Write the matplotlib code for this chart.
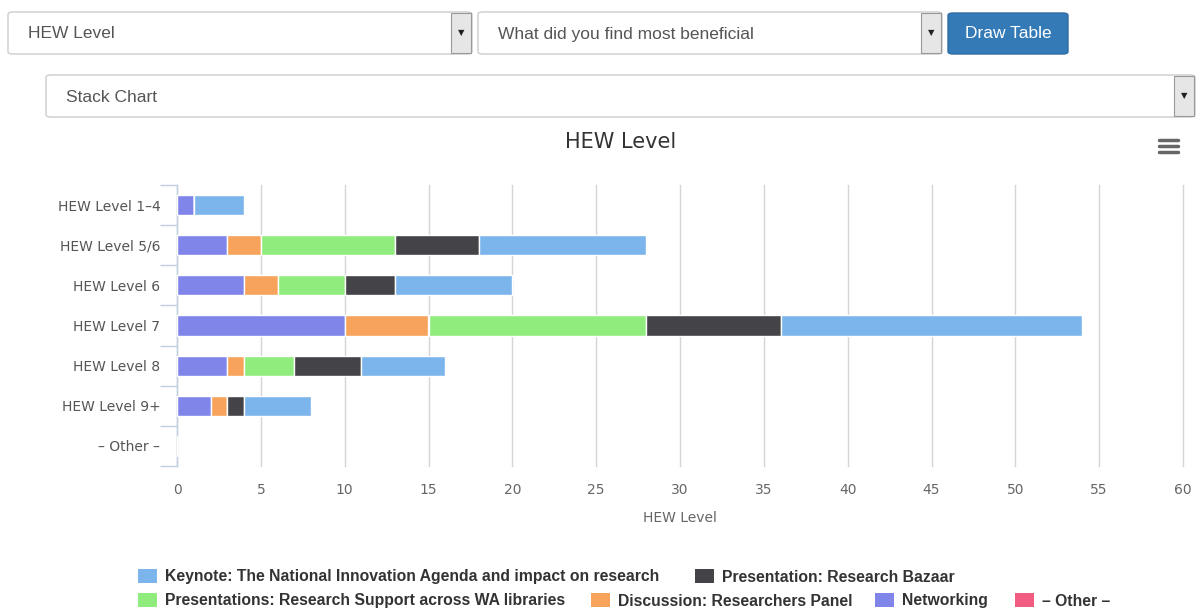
import matplotlib
matplotlib.use("Agg")
import matplotlib.pyplot as plt
from matplotlib.patches import FancyBboxPatch, Rectangle
import numpy as np

categories = ["HEW Level 1\u20134", "HEW Level 5/6", "HEW Level 6", "HEW Level 7",
              "HEW Level 8", "HEW Level 9+", "\u2013 Other \u2013"]
series_names = ["Keynote: The National Innovation Agenda and impact on research",
                "Presentation: Research Bazaar",
                "Presentations: Research Support across WA libraries",
                "Discussion: Researchers Panel",
                "Networking",
                "\u2013 Other \u2013"]
keynote = [3, 10, 7, 18, 5, 4, 0]
bazaar = [0, 5, 3, 8, 4, 1, 0]
pres_wa = [0, 8, 4, 13, 3, 0, 0]
discussion = [0, 2, 2, 5, 1, 1, 0]
networking = [1, 3, 4, 10, 3, 2, 0]
other = [0, 0, 0, 0, 0, 0, 0]
colors = ["#7cb5ec", "#434348", "#90ed7d", "#f7a35c", "#8085e9", "#f15c80"]
x_ticks = list(range(0, 61, 5))

W, H = 1198, 610
fig = plt.figure(figsize=(W / 100, H / 100), dpi=100)
fig.patch.set_facecolor("white")

def fx(x): return x / W
def fy(y): return 1 - y / H

# --- top UI controls ---
def select_box(x0, x1, y0, y1, label, arrow_w=20):
    box = FancyBboxPatch((fx(x0), fy(y1)), fx(x1 - x0), (y1 - y0) / H,
                         boxstyle="round,pad=0,rounding_size=0.004",
                         transform=fig.transFigure, facecolor="white",
                         edgecolor="#cccccc", lw=1)
    fig.add_artist(box)
    ab = Rectangle((fx(x1 - arrow_w - 1), fy(y1 - 1)), fx(arrow_w), (y1 - y0 - 2) / H,
                   transform=fig.transFigure, facecolor="#e6e6e6", edgecolor="#999999", lw=0.8)
    fig.add_artist(ab)
    fig.text(fx(x1 - 1 - arrow_w / 2), fy((y0 + y1) / 2), "\u25BC", fontsize=6,
             ha="center", va="center", color="#222222", family="DejaVu Sans")
    fig.text(fx(x0 + 20), fy((y0 + y1) / 2 + 1), label, fontsize=12.5, ha="left",
             va="center", color="#555555", family="Liberation Sans")

select_box(8, 472, 12, 54, "HEW Level")
select_box(478, 942, 12, 54, "What did you find most beneficial")
select_box(46, 1195, 75, 117, "Stack Chart")
btn = FancyBboxPatch((fx(948), fy(54)), fx(120), 41 / H,
                     boxstyle="round,pad=0,rounding_size=0.004",
                     transform=fig.transFigure, facecolor="#337ab7",
                     edgecolor="#2e6da4", lw=1)
fig.add_artist(btn)
fig.text(fx(1008), fy(34), "Draw Table", fontsize=12.5, ha="center", va="center",
         color="white", family="Liberation Sans")

# --- chart ---
ax = fig.add_axes([fx(177), fy(466), fx(1183 - 177), (466 - 185) / H])
y = np.arange(len(categories))
stack_order = [(other, 5), (networking, 4), (discussion, 3), (pres_wa, 2), (bazaar, 1), (keynote, 0)]
left = np.zeros(len(categories))
for vals, idx in stack_order:
    v = np.array(vals, dtype=float)
    ax.barh(y, v, left=left, height=0.5, color=colors[idx], edgecolor="white",
            linewidth=1, zorder=3)
    left += v

ax.set_xlim(0, 60)
ax.set_ylim(len(categories) - 0.5, -0.5)
ax.set_xticks(x_ticks)
ax.set_xticklabels([str(t) for t in x_ticks], fontsize=10, color="#666666",
                   family="DejaVu Sans")
ax.tick_params(axis="x", length=0, pad=12)
ax.grid(axis="x", color="#d5d5d5", lw=1, zorder=0)
for gl in ax.get_xgridlines():
    gl.set_clip_on(False)
ax.set_yticks(y)
ax.set_yticklabels(categories, fontsize=10, color="#555555", family="DejaVu Sans")
ax.set_yticks(np.arange(-0.5, len(categories)), minor=True)
ax.tick_params(axis="y", which="major", length=0, pad=12)
ax.tick_params(axis="y", which="minor", length=12, color="#C0D0E0", width=1)
for s in ["top", "right", "bottom"]:
    ax.spines[s].set_visible(False)
ax.spines["left"].set_color("#C0D0E0")
ax.spines["left"].set_linewidth(1)
ax.set_xlabel("HEW Level", fontsize=10, color="#666666", labelpad=10, family="DejaVu Sans")

fig.text(fx(621), fy(142), "HEW Level", fontsize=15, ha="center", va="center",
         color="#333333", family="DejaVu Sans")

# hamburger icon
for yy in [140, 146, 152]:
    fig.add_artist(plt.Line2D([fx(1159), fx(1178)], [fy(yy), fy(yy)],
                              transform=fig.transFigure, color="#666666", lw=2.5,
                              solid_capstyle="round"))

# --- legend ---
legend_items = [(0, 138, 576), (1, 695, 576), (2, 138, 600), (3, 591, 600),
                (4, 875, 600), (5, 1015, 600)]
for idx, lx, ly in legend_items:
    fig.add_artist(Rectangle((fx(lx), fy(ly + 7)), fx(19), 14 / H,
                             transform=fig.transFigure, facecolor=colors[idx],
                             edgecolor="none"))
    fig.text(fx(lx + 27), fy(ly + 1), series_names[idx], fontsize=11.3, fontweight="bold",
             ha="left", va="center", color="#333333", family="Liberation Sans")

fig.savefig("out.png", dpi=100, facecolor="white")
